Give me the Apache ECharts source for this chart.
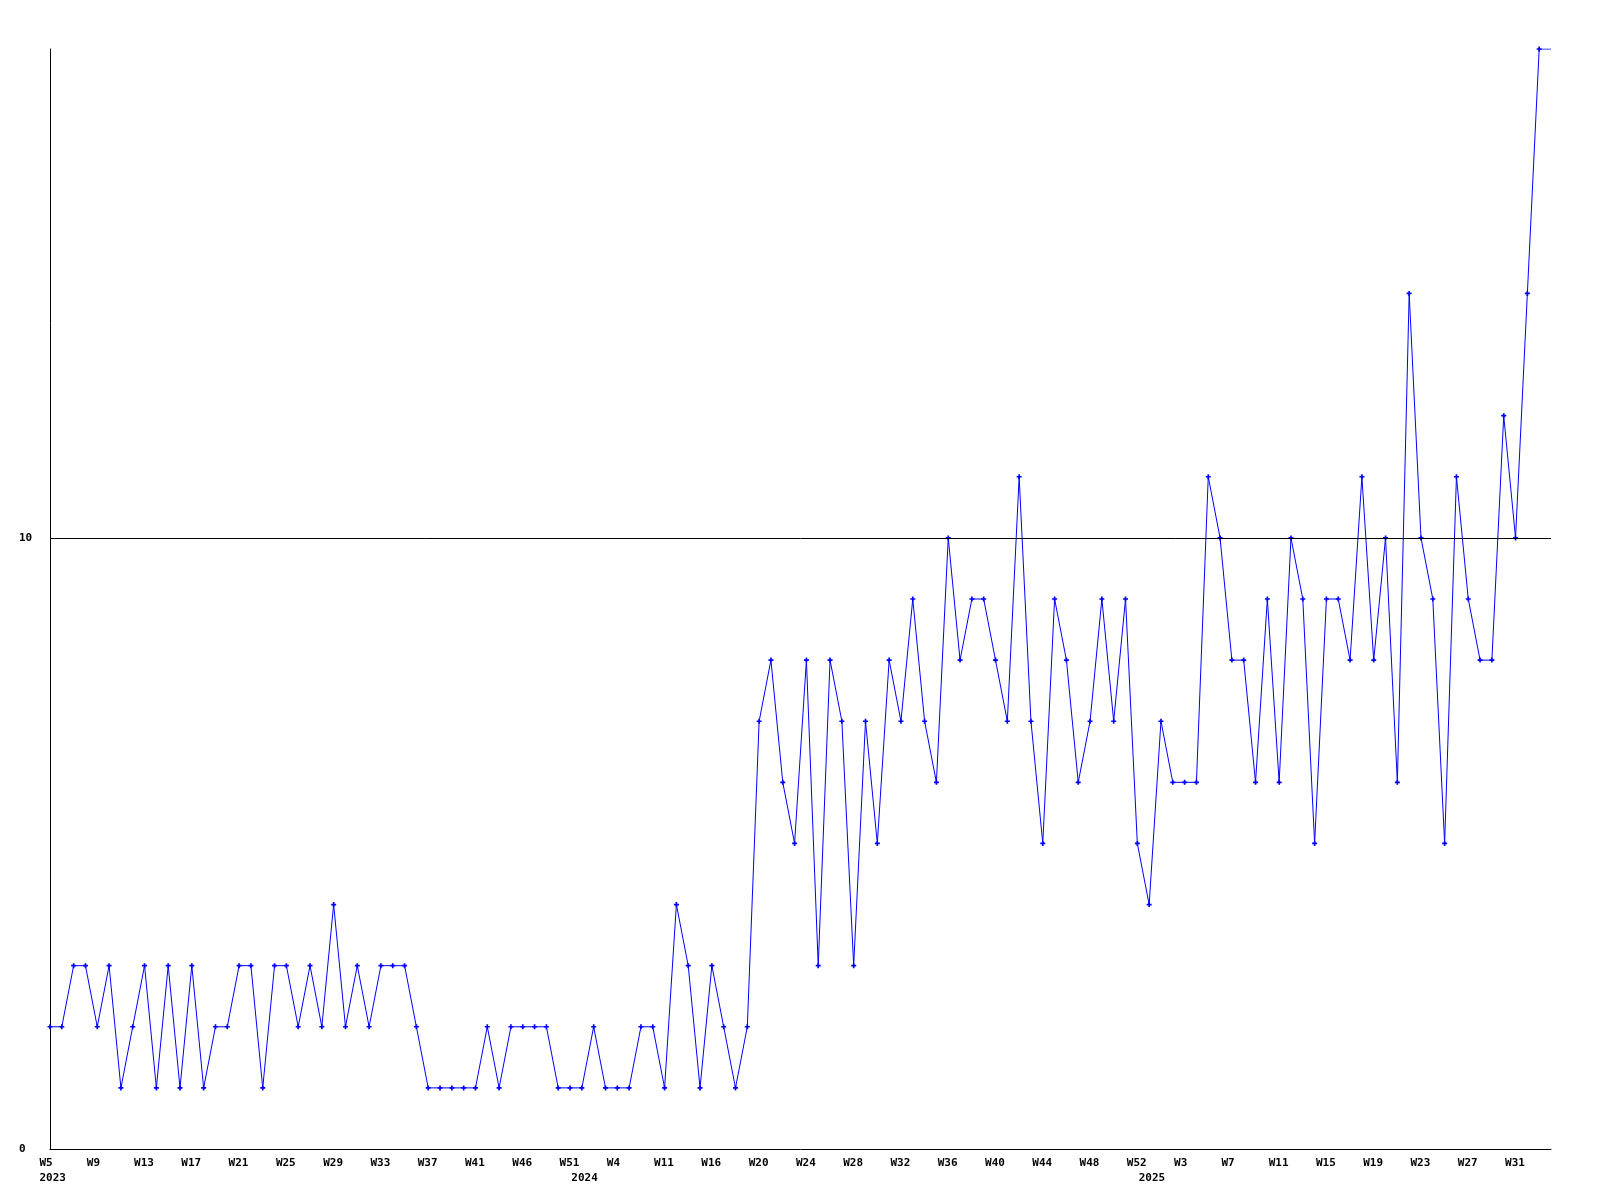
<!DOCTYPE html>
<html><head><meta charset="utf-8">
<script src="https://cdn.jsdelivr.net/npm/echarts@6/dist/echarts.min.js"></script>
<style>html,body{margin:0;padding:0;background:#fff}#c{width:1600px;height:1200px}</style>
</head><body><div id="c"></div>
<script>
// Week categories (some weeks absent in source data)
const weeks = [
 'W5','W6','W7','W8','W9','W10','W11','W12','W13','W14','W15','W16','W17','W18','W19','W20',
 'W21','W22','W23','W24','W25','W26','W27','W28','W29','W30','W31','W32','W33','W34','W35','W36',
 'W37','W38','W39','W40','W41','W42','W43','W44','W46','W47','W48','W49','W51',
 'W1','W2','W3','W4','W5','W8','W10','W11','W12','W13','W14','W16',
 'W17','W18','W19','W20','W21','W22','W23','W24','W25','W26','W27','W28','W29','W30','W31','W32',
 'W33','W34','W35','W36','W37','W38','W39','W40','W41','W42','W43','W44','W45','W46','W47','W48',
 'W49','W50','W51','W52',
 'W0','W1','W2','W3','W4','W5','W6','W7','W8','W9','W10','W11','W12','W13','W14','W15','W16',
 'W17','W18','W19','W20','W21','W22','W23','W24','W25','W26','W27','W28','W29','W30','W31','W32','W33'
];
const values = [
 2,2,3,3,2,3,1,2,3,1,3,1,3,1,2,2,3,3,1,3,3,2,3,2,4,2,3,2,3,3,3,2,
 1,1,1,1,1,2,1,2,2,2,2,1,1,1,2,1,1,1,2,2,1,4,3,1,3,2,1,2,
 7,8,6,5,8,3,8,7,3,7,5,8,7,9,7,6,10,8,9,9,8,7,11,7,5,9,8,6,7,9,7,
 9,5,4,7,6,6,6,11,10,8,8,6,9,6,10,9,5,9,9,8,11,8,10,6,14,10,9,5,11,9,8,8,12,10,14,18
];
const yearLabels = ['2023','2024','2025'];
const yTicks = [0, 10];
const yMax = 18;
const labelEvery = 4;

const xMax = values.length;
const weekTickIdx = weeks.map((_, i) => i).filter(i => i % labelEvery === 0);
const wnum = s => parseInt(s.slice(1), 10);
const yearStarts = [0];
for (let i = 1; i < weeks.length; i++) if (wnum(weeks[i]) < wnum(weeks[i - 1])) yearStarts.push(i);

const data = values.map((v, i) => [i, v]);
data.push({ value: [xMax, values[values.length - 1]], symbol: 'none' });

const font = { fontFamily: 'DejaVu Sans Mono', fontWeight: 'bold', fontSize: 11, color: '#000' };
const hidden = { axisLine: { show: false }, axisTick: { show: false }, splitLine: { show: false } };
const chart = echarts.init(document.getElementById('c'), null, { renderer: 'canvas' });
chart.setOption({
  animation: false,
  backgroundColor: '#fff',
  grid: [
    { left: 50, right: 49, top: 49, bottom: 51 },
    { left: 39.5, right: 59.5, top: 49, bottom: 51 }   // label grid: text left-aligned ~10px before tick
  ],
  xAxis: [{
    gridIndex: 0, type: 'value', min: 0, max: xMax,
    axisLine: { show: true, onZero: false, lineStyle: { color: '#000', width: 1 } },
    axisTick: { show: false }, splitLine: { show: false }, axisLabel: { show: false }
  }, Object.assign({
    gridIndex: 1, type: 'value', min: 0, max: xMax, position: 'bottom',
    axisLabel: Object.assign({
      customValues: weekTickIdx, margin: 9, verticalAlign: 'top', align: 'left',
      formatter: v => weeks[Math.round(v)] || ''
    }, font)
  }, hidden), Object.assign({
    gridIndex: 1, type: 'value', min: 0, max: xMax, position: 'bottom',
    axisLabel: Object.assign({
      customValues: yearStarts, margin: 24, verticalAlign: 'top', align: 'left',
      formatter: v => yearLabels[yearStarts.indexOf(Math.round(v))] || ''
    }, font)
  }, hidden)],
  yAxis: [{
    gridIndex: 0, type: 'value', min: 0, max: yMax,
    axisLine: { show: true, lineStyle: { color: '#000', width: 1 } },
    axisTick: { show: false }, splitLine: { show: false },
    axisLabel: Object.assign({ customValues: yTicks, margin: 31, align: 'left', verticalAlign: 'middle' }, font)
  }, Object.assign({ gridIndex: 1, type: 'value', min: 0, max: 1, show: false }, hidden)],
  series: [{
    type: 'line', data: data, xAxisIndex: 0, yAxisIndex: 0,
    symbol: 'path://M1,0H2V1H3V2H2V3H1V2H0V1H1Z', symbolSize: 5, showAllSymbol: true,
    lineStyle: { color: '#0000ff', width: 1 },
    itemStyle: { color: '#0000ff' },
    markLine: {
      silent: true, symbol: 'none', label: { show: false },
      lineStyle: { color: '#000', type: 'solid', width: 1 },
      data: yTicks.filter(v => v > 0).map(v => ({ yAxis: v }))
    }
  }]
});
</script></body></html>
